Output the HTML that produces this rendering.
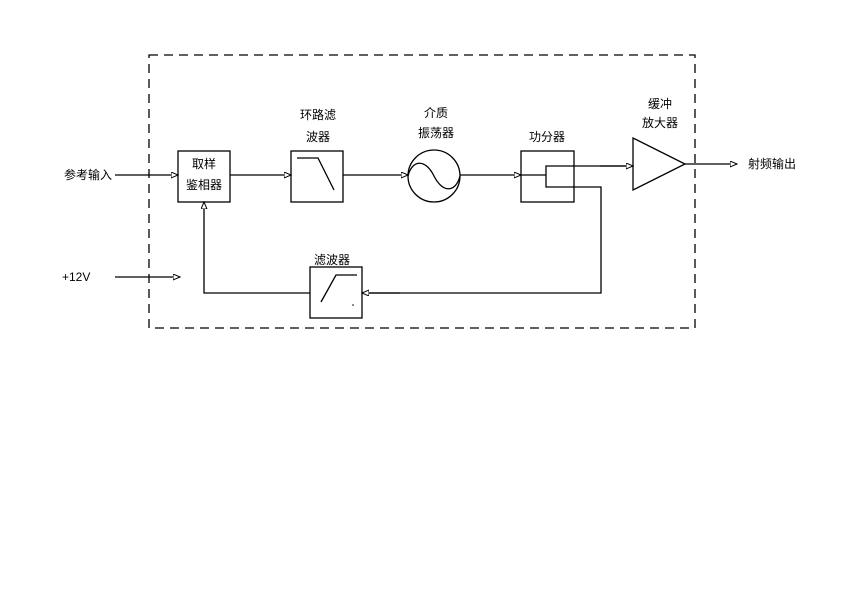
<!DOCTYPE html>
<html><head><meta charset="utf-8"><style>
html,body{margin:0;padding:0;background:#fff;}
svg{display:block;}
text{font-family:"Liberation Sans","Noto Sans CJK SC",sans-serif;font-size:12px;fill:#000;}
</style></head><body>
<svg width="848" height="599" viewBox="0 0 848 599" xmlns="http://www.w3.org/2000/svg">
<defs>
<marker id="a" markerWidth="8" markerHeight="8" refX="7" refY="3" orient="auto" markerUnits="userSpaceOnUse">
<path d="M0,0 L7,3 L0,6 Z" fill="#fff" stroke="#000" stroke-width="1"/>
</marker>
</defs>
<g fill="none" stroke="#000" stroke-width="1.3">
<rect x="149" y="55" width="546" height="273" stroke-dasharray="9,6"/>
<line x1="115" y1="175" x2="178" y2="175" marker-end="url(#a)"/>
<line x1="115" y1="277" x2="180" y2="277" marker-end="url(#a)"/>
<rect x="178" y="151" width="52" height="51"/>
<line x1="230" y1="175" x2="291" y2="175" marker-end="url(#a)"/>
<rect x="291" y="151" width="52" height="51"/>
<polyline points="297,158 318,158 334,190"/>
<line x1="343" y1="175" x2="408" y2="175" marker-end="url(#a)"/>
<circle cx="434" cy="176" r="26"/>
<path d="M408,176 C412,160 425,158 434,176 C443,194 456,192 460,176"/>
<line x1="460" y1="175" x2="521" y2="175" marker-end="url(#a)"/>
<rect x="521" y="151" width="53" height="51"/>
<polyline points="521,175 546,175"/>
<polyline points="633,166 546,166 546,187 601,187 601,293 362,293" />
<line x1="600" y1="166" x2="633" y2="166" marker-end="url(#a)"/>
<line x1="400" y1="293" x2="362" y2="293" marker-end="url(#a)"/>
<polygon points="633,138 633,190 685,164"/>
<line x1="685" y1="164" x2="737" y2="164" marker-end="url(#a)"/>
<rect x="310" y="267" width="52" height="51"/>
<polyline points="321,302 336,275 357,275"/>
<polyline points="310,293 204,293 204,202" marker-end="url(#a)"/>
</g>
<circle cx="353" cy="305" r="0.8" fill="#000"/>
<text x="64" y="179">参考输入</text>
<text x="62" y="281">+12V</text>
<text x="204" y="168" text-anchor="middle">取样</text>
<text x="204" y="189" text-anchor="middle">鉴相器</text>
<text x="318" y="119" text-anchor="middle">环路滤</text>
<text x="318" y="141" text-anchor="middle">波器</text>
<text x="436" y="117" text-anchor="middle">介质</text>
<text x="436" y="137" text-anchor="middle">振荡器</text>
<text x="547" y="141" text-anchor="middle">功分器</text>
<text x="660" y="108" text-anchor="middle">缓冲</text>
<text x="660" y="127" text-anchor="middle">放大器</text>
<text x="332" y="264" text-anchor="middle">滤波器</text>
<text x="748" y="168">射频输出</text>
</svg>
</body></html>
